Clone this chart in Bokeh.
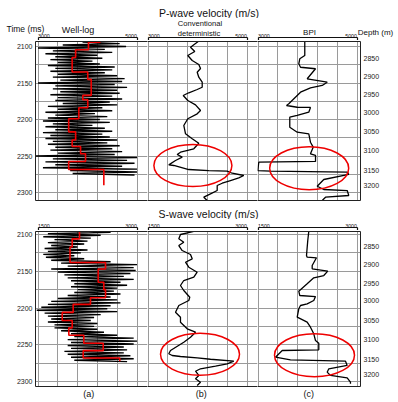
import numpy as np
from bokeh.plotting import figure
from bokeh.layouts import row, column
from bokeh.models import Range1d, LinearAxis, FixedTicker, Label
from bokeh.embed import file_html
from bokeh.resources import INLINE

FONT = "Liberation Sans"

# ---------------- data ----------------
grid_times = [2100, 2125, 2150, 2175, 2200, 2225, 2250, 2275, 2300]
time_ticks = [2100, 2150, 2200, 2250, 2300]
depth_labels = ["2850", "2900", "2950", "3000", "3050", "3100", "3150", "3200"]
depth_times = [2116, 2141, 2166, 2190, 2217, 2243, 2270, 2291]

p_limits = [3000, 5000]
p_grid = [3000, 3400, 3800, 4200, 4600, 5000]
s_limits = [1500, 3000]
s_grid = [1500, 1800, 2100, 2400, 2700, 3000]

section_titles = ["P-wave velocity (m/s)", "S-wave velocity (m/s)"]
panel_letters = ["(a)", "(b)", "(c)"]

# P-wave well log (sampled every 2 ms from 2094 ms)
p_log_start, p_log_step = 2094, 2
p_log = [3900, 4650, 3500, 4780, 3000, 4350, 3300, 4500, 3150, 4200, 3350, 4300,
         3250, 4100, 3400, 4250, 3200, 4550, 3350, 4500, 3250, 4350, 3400, 4600,
         3300, 4750, 3450, 4700, 3000, 4550, 3350, 4800, 3300, 4600, 3450, 4650,
         3250, 4500, 3400, 4700, 3350, 4450, 3500, 4600, 3200, 4300, 3400, 4500,
         3150, 4150, 3350, 4400, 3200, 4250, 3100, 4450, 3300, 4100, 3150, 4350,
         3350, 4500, 3100, 4300, 3250, 4450, 3150, 4600, 3300, 4400, 3200, 4650,
         3350, 4500, 3250, 4700, 3400, 4550, 2950, 5000, 3300, 4800, 3150, 4950,
         3350, 4700, 3100, 5000, 3650, 5000, 3700, 4950]
# P-wave blocked (upscaled) log
p_block_first = 4265
p_block_times = [2094, 2104.5, 2115, 2135, 2145, 2167, 2173, 2184, 2199, 2217,
                 2228, 2237, 2247, 2257.5, 2268.5, 2290]
p_block_vals = [4020, 3760, 3690, 4005, 4075, 3905, 4005, 3825, 3620, 3760,
                3690, 3860, 3960, 3620, 4330]

# P-wave conventional deterministic inversion
p_conv_t = [2093.2, 2101.0, 2106.8, 2112.3, 2119.2, 2124.7, 2130.1, 2135.2, 2142.1, 2148.9,
            2155.8, 2158.9, 2163.4, 2167.1, 2174.0, 2179.9, 2187.7, 2192.2, 2199.0, 2208.2,
            2219.6, 2226.4, 2232.5, 2240.1, 2244.8, 2247.9, 2251.6, 2256.2, 2262.1, 2263.0,
            2268.5, 2269.9, 2270.8, 2273.6, 2276.7, 2279.9, 2283.6, 2287.3, 2290.4, 2297.3,
            2301.8, 2306.4, 2311.0]
p_conv_v = [4014, 3859, 3945, 3804, 3893, 4026, 4061, 3994, 4026, 4095,
            4095, 3994, 3824, 3711, 3804, 3960, 4061, 3994, 3804, 3723,
            3758, 3893, 4026, 3925, 3657, 3590, 3691, 3556, 3420, 3521,
            3824, 4228, 4600, 4701, 4935, 4834, 4667, 4499, 4398, 4398,
            4263, 4127, 4196]

# P-wave BPI
p_bpi_t = [2093.2, 2112.3, 2116.8, 2123.7, 2128.4, 2130.5, 2144.2, 2148.9, 2153.4, 2156.6,
           2162.6, 2178.5, 2180.8, 2183.2, 2183.5, 2190.0, 2194.5, 2196.8, 2210.5, 2217.4,
           2219.6, 2231.1, 2237.9, 2247.0, 2249.3, 2257.5, 2258.5, 2269.9, 2270.8, 2272.2,
           2275.3, 2282.2, 2291.4, 2295.9, 2297.3, 2304.1, 2306.4, 2311.0]
p_bpi_v = [3945, 3945, 3844, 3824, 3859, 4162, 3994, 4398, 4297, 4060,
           3859, 3622, 3576, 3792, 4060, 4026, 3792, 3642, 3642, 3792,
           4026, 4060, 4115, 4060, 4162, 4162, 3016, 2996, 3253, 4802,
           4834, 4329, 4196, 4329, 4802, 4834, 4364, 4297]

# S-wave well log (sampled every 2 ms from 2095 ms)
s_log_start, s_log_step = 2095, 2
s_log = [2100, 2600, 1650, 2450, 1580, 2300, 1750, 2250, 1650, 2200, 1700, 2100,
         1600, 2250, 1650, 2150, 1580, 2050, 1620, 2200, 1700, 2600, 1850, 3000,
         1950, 2950, 1700, 2980, 1800, 2900, 1900, 2800, 1950, 2950, 2000, 2750,
         2050, 2850, 2000, 2700, 2100, 2650, 2050, 2750, 1950, 2600, 1800, 2700,
         1700, 2750, 1650, 2600, 1550, 2550, 1480, 2700, 1600, 2450, 1650, 2350,
         1700, 2300, 1650, 2400, 1750, 2350, 1750, 2400, 1850, 2500, 2000, 2700,
         2050, 2950, 1950, 3000, 2000, 2950, 1950, 2800, 2000, 2850, 1900, 2800,
         1950, 2900, 2000, 2950, 2050, 2850]
s_block_first = 2371
s_block_times = [2095.5, 2106, 2117, 2138, 2147, 2165, 2175, 2186, 2195, 2206,
                 2217, 2227, 2237, 2248, 2258, 2268, 2272.5]
s_block_vals = [2129, 2018, 1985, 2523, 2412, 2497, 2523, 2295, 2033, 1867,
                2018, 1967, 2194, 2488, 2185, 2739]

s_conv_t = [2095.5, 2100.0, 2105.9, 2110.5, 2115.0, 2121.8, 2127.2, 2133.1, 2137.7, 2144.5,
            2151.3, 2158.1, 2162.6, 2169.4, 2176.2, 2185.3, 2189.8, 2196.6, 2205.7, 2212.5,
            2219.3, 2228.3, 2232.9, 2239.7, 2246.5, 2257.8, 2262.3, 2264.6, 2266.0, 2267.8,
            2269.7, 2272.4, 2275.9, 2279.2, 2282.7, 2286.0, 2291.8, 2296.3, 2301.0, 2305.4]
s_conv_v = [2209, 1992, 1967, 2042, 1967, 2018, 2144, 2170, 2068, 2118,
            2245, 2194, 2042, 1992, 2042, 2133, 2118, 1967, 1917, 1992,
            1992, 2094, 2220, 2144, 2042, 1841, 1815, 1867, 1992, 2245,
            2447, 2800, 2700, 2523, 2295, 2220, 2270, 2220, 2295, 2245]

s_bpi_t = [2095.5, 2108.2, 2128.6, 2130.9, 2131.7, 2142.2, 2146.7, 2149.9, 2155.8, 2158.9,
           2167.1, 2177.1, 2183.0, 2184.4, 2189.8, 2194.3, 2196.6, 2201.1, 2212.5, 2219.3,
           2226.1, 2235.1, 2244.2, 2247.9, 2256.9, 2257.8, 2266.9, 2270.5, 2272.4, 2278.2,
           2282.7, 2287.3, 2291.8, 2295.0, 2301.0, 2303.0]
s_bpi_v = [2270, 2254, 2235, 2245, 2386, 2321, 2321, 2557, 2497, 2345,
           2245, 2118, 2133, 2371, 2345, 2245, 2144, 2118, 2094, 2245,
           2295, 2345, 2371, 2421, 2421, 1867, 1765, 1992, 2826, 2851,
           2573, 2548, 2598, 2851, 2901, 2901]

# highlighted zones (ellipses) in panels (b) and (c)
p_ell_v = [3907, 4034]
p_ell_t = [2263.0, 2266.7]
p_ell_w = [1576, 1596]
p_ell_h = [57.5, 58.9]
s_ell_v = [2288, 2356]
s_ell_t = [2263.0, 2264.2]
s_ell_w = [1197, 1212]
s_ell_h = [57.0, 58.5]

# ---------------- layout (page pixels) ----------------
W = 398
FIG_X = [(0, 147), (147, 257), (257, 398)]
FRAME_X = [(35, 147), (147, 257), (257, 360)]
PANEL_X0 = [37.5, 147.5, 257.5]
PANEL_W = 99.0
SECTIONS = [
    dict(title_y=(0, 18), head_y=(18, 40), head_frame_bottom=37,
         fig_y=(40, 202), frame_y=(41, 200), y2100=46.0, pxms=0.73),
    dict(title_y=(202, 219), head_y=(219, 230), head_frame_bottom=226,
         fig_y=(230, 387), frame_y=(231, 386), y2100=234.0, pxms=0.735),
]
FOOT_Y = (387, 402)
GRID = "#9a9a9a"
FRAME = "#222222"
INK = "#111111"
RED = "#ee0000"


def panel_X(c, limits):
    return lambda px: limits[0] + (px - PANEL_X0[c]) * (limits[1] - limits[0]) / PANEL_W


def add_text(f, x, y, s, size, align="center"):
    f.add_layout(Label(x=x, y=y, text=s, text_font=FONT, text_font_size=f"{size}px",
                       text_align=align, text_baseline="alphabetic", text_color=INK))


def bare(width, height, xr, yr, bottom=0):
    f = figure(width=width, height=height, x_range=xr, y_range=yr,
               output_backend="svg", toolbar_location=None,
               x_axis_location=None, y_axis_location=None,
               min_border_left=0, min_border_right=0, min_border_top=0,
               min_border_bottom=bottom)
    f.outline_line_color = None
    f.xgrid.visible = False
    f.ygrid.visible = False
    return f


def text_strip(y0, y1):
    return bare(W, y1 - y0, Range1d(0, W), Range1d(y1, y0))


def header(si, c, limits):
    sec = SECTIONS[si]
    X = panel_X(c, limits)
    fx0, fx1 = FIG_X[c]
    hy0, hy1 = sec["head_y"]
    fb = sec["head_frame_bottom"]
    gap = hy1 - fb
    h = bare(fx1 - fx0, hy1 - hy0, Range1d(X(fx0), X(fx1)), Range1d(fb, hy0), bottom=gap)
    br = LinearAxis(ticker=FixedTicker(ticks=limits), bounds=(limits[0], limits[1]),
                    major_tick_out=gap, major_tick_in=0, minor_tick_out=0, minor_tick_in=0,
                    major_label_standoff=0, major_label_text_color=None,
                    major_label_text_font_size="0px",
                    axis_line_color=INK, axis_line_width=1.2, major_tick_line_color=INK,
                    major_tick_line_width=1.2)
    h.add_layout(br, "below")
    lab_y = fb - 1.3
    add_text(h, limits[0], lab_y, f"{limits[0]}", 5.3, "left")
    add_text(h, limits[1], lab_y, f"{limits[1]}", 5.3, "right")
    return h, X


def make_panel(si, c, limits, grid_vals):
    sec = SECTIONS[si]
    fx0, fx1 = FIG_X[c]
    frx0, frx1 = FRAME_X[c]
    fy0, fy1 = sec["fig_y"]
    fry0, fry1 = sec["frame_y"]
    X = panel_X(c, limits)

    def T(py):
        return 2100 + (py - sec["y2100"]) / sec["pxms"]

    p = figure(width=fx1 - fx0, height=fy1 - fy0,
               x_range=Range1d(X(frx0), X(frx1)),
               y_range=Range1d(T(fry1), T(fry0)),
               output_backend="svg", toolbar_location=None,
               x_axis_location=None, y_axis_location=None,
               min_border_left=frx0 - fx0, min_border_right=fx1 - frx1,
               min_border_top=fry0 - fy0, min_border_bottom=fy1 - fry1)
    p.outline_line_color = None
    p.xgrid.ticker = FixedTicker(ticks=grid_vals)
    p.ygrid.ticker = FixedTicker(ticks=grid_times)
    for g in (p.xgrid, p.ygrid):
        g.grid_line_color = GRID
        g.grid_line_width = 1

    for side in ("above", "below"):
        fr = LinearAxis(ticker=FixedTicker(ticks=[]), major_tick_out=0, major_tick_in=0,
                        minor_tick_out=0, minor_tick_in=0, major_label_standoff=0,
                        major_label_text_color=None, major_label_text_font_size="0px",
                        axis_line_color=FRAME)
        p.add_layout(fr, side)

    if c == 0:
        ax = LinearAxis(ticker=FixedTicker(ticks=time_ticks), major_tick_out=0, major_tick_in=0,
                        minor_tick_out=0, minor_tick_in=0, major_label_standoff=3,
                        major_label_text_font_size="7px", major_label_text_font=FONT,
                        major_label_text_color="#222222", axis_line_color=FRAME)
        p.add_layout(ax, "left")
    if c == 2:
        ax = LinearAxis(ticker=FixedTicker(ticks=depth_times),
                        major_label_overrides={t: d for t, d in zip(depth_times, depth_labels)},
                        major_tick_out=0, major_tick_in=0, minor_tick_out=0, minor_tick_in=0,
                        major_label_standoff=3, major_label_text_font_size="7px",
                        major_label_text_font=FONT, major_label_text_color="#222222",
                        axis_line_color=FRAME)
        p.add_layout(ax, "right")
    return p


def block_path(first, times, vals):
    xs, ys = [first], [times[0]]
    for i, v in enumerate(vals):
        xs += [v, v]
        ys += [times[i], times[i + 1]]
    return xs, ys


# ---------------- P-wave section ----------------
t1 = text_strip(*SECTIONS[0]["title_y"])
add_text(t1, 208.5, 12.6, section_titles[0], 10.5)

ha, Xa = header(0, 0, p_limits)
add_text(ha, Xa(6), 28, "Time (ms)", 8.5, "left")
add_text(ha, Xa(77.5), 29.3, "Well-log", 9)
hb, Xb = header(0, 1, p_limits)
add_text(hb, Xb(199.5), 23.4, "Conventional", 7.6)
add_text(hb, Xb(198.5), 32.9, "deterministic", 7.6)
hc, Xc = header(0, 2, p_limits)
add_text(hc, Xc(309), 32, "BPI", 8)
add_text(hc, Xc(375), 32, "Depth (m)", 8)

pa = make_panel(0, 0, p_limits, p_grid)
p_log_t = p_log_start + p_log_step * np.arange(len(p_log))
pa.line(p_log, p_log_t, line_color="black", line_width=1.4)
bx, by = block_path(p_block_first, p_block_times, p_block_vals)
pa.line(bx, by, line_color=RED, line_width=1.6)

pb = make_panel(0, 1, p_limits, p_grid)
pb.line(p_conv_v, p_conv_t, line_color="black", line_width=1.3)
pb.ellipse(x=p_ell_v[0], y=p_ell_t[0], width=p_ell_w[0], height=p_ell_h[0],
           fill_color=None, line_color=RED, line_width=1.5)

pc = make_panel(0, 2, p_limits, p_grid)
pc.line(p_bpi_v, p_bpi_t, line_color="black", line_width=1.3)
pc.ellipse(x=p_ell_v[1], y=p_ell_t[1], width=p_ell_w[1], height=p_ell_h[1],
           fill_color=None, line_color=RED, line_width=1.5)

# ---------------- S-wave section ----------------
t2 = text_strip(*SECTIONS[1]["title_y"])
add_text(t2, 208, 213.2, section_titles[1], 10.5)

hsa, _ = header(1, 0, s_limits)
hsb, _ = header(1, 1, s_limits)
hsc, _ = header(1, 2, s_limits)

sa = make_panel(1, 0, s_limits, s_grid)
s_log_t = s_log_start + s_log_step * np.arange(len(s_log))
sa.line(s_log, s_log_t, line_color="black", line_width=1.4)
bx, by = block_path(s_block_first, s_block_times, s_block_vals)
sa.line(bx, by, line_color=RED, line_width=1.6)

sb = make_panel(1, 1, s_limits, s_grid)
sb.line(s_conv_v, s_conv_t, line_color="black", line_width=1.3)
sb.ellipse(x=s_ell_v[0], y=s_ell_t[0], width=s_ell_w[0], height=s_ell_h[0],
           fill_color=None, line_color=RED, line_width=1.5)

sc = make_panel(1, 2, s_limits, s_grid)
sc.line(s_bpi_v, s_bpi_t, line_color="black", line_width=1.3)
sc.ellipse(x=s_ell_v[1], y=s_ell_t[1], width=s_ell_w[1], height=s_ell_h[1],
           fill_color=None, line_color=RED, line_width=1.5)

foot = text_strip(*FOOT_Y)
for letter, px in zip(panel_letters, [88.3, 200.8, 308.3]):
    add_text(foot, px, 393, letter, 9)

layout = column(t1, row(ha, hb, hc), row(pa, pb, pc),
                t2, row(hsa, hsb, hsc), row(sa, sb, sc), foot)
open("out.html", "w").write(file_html(layout, INLINE))
